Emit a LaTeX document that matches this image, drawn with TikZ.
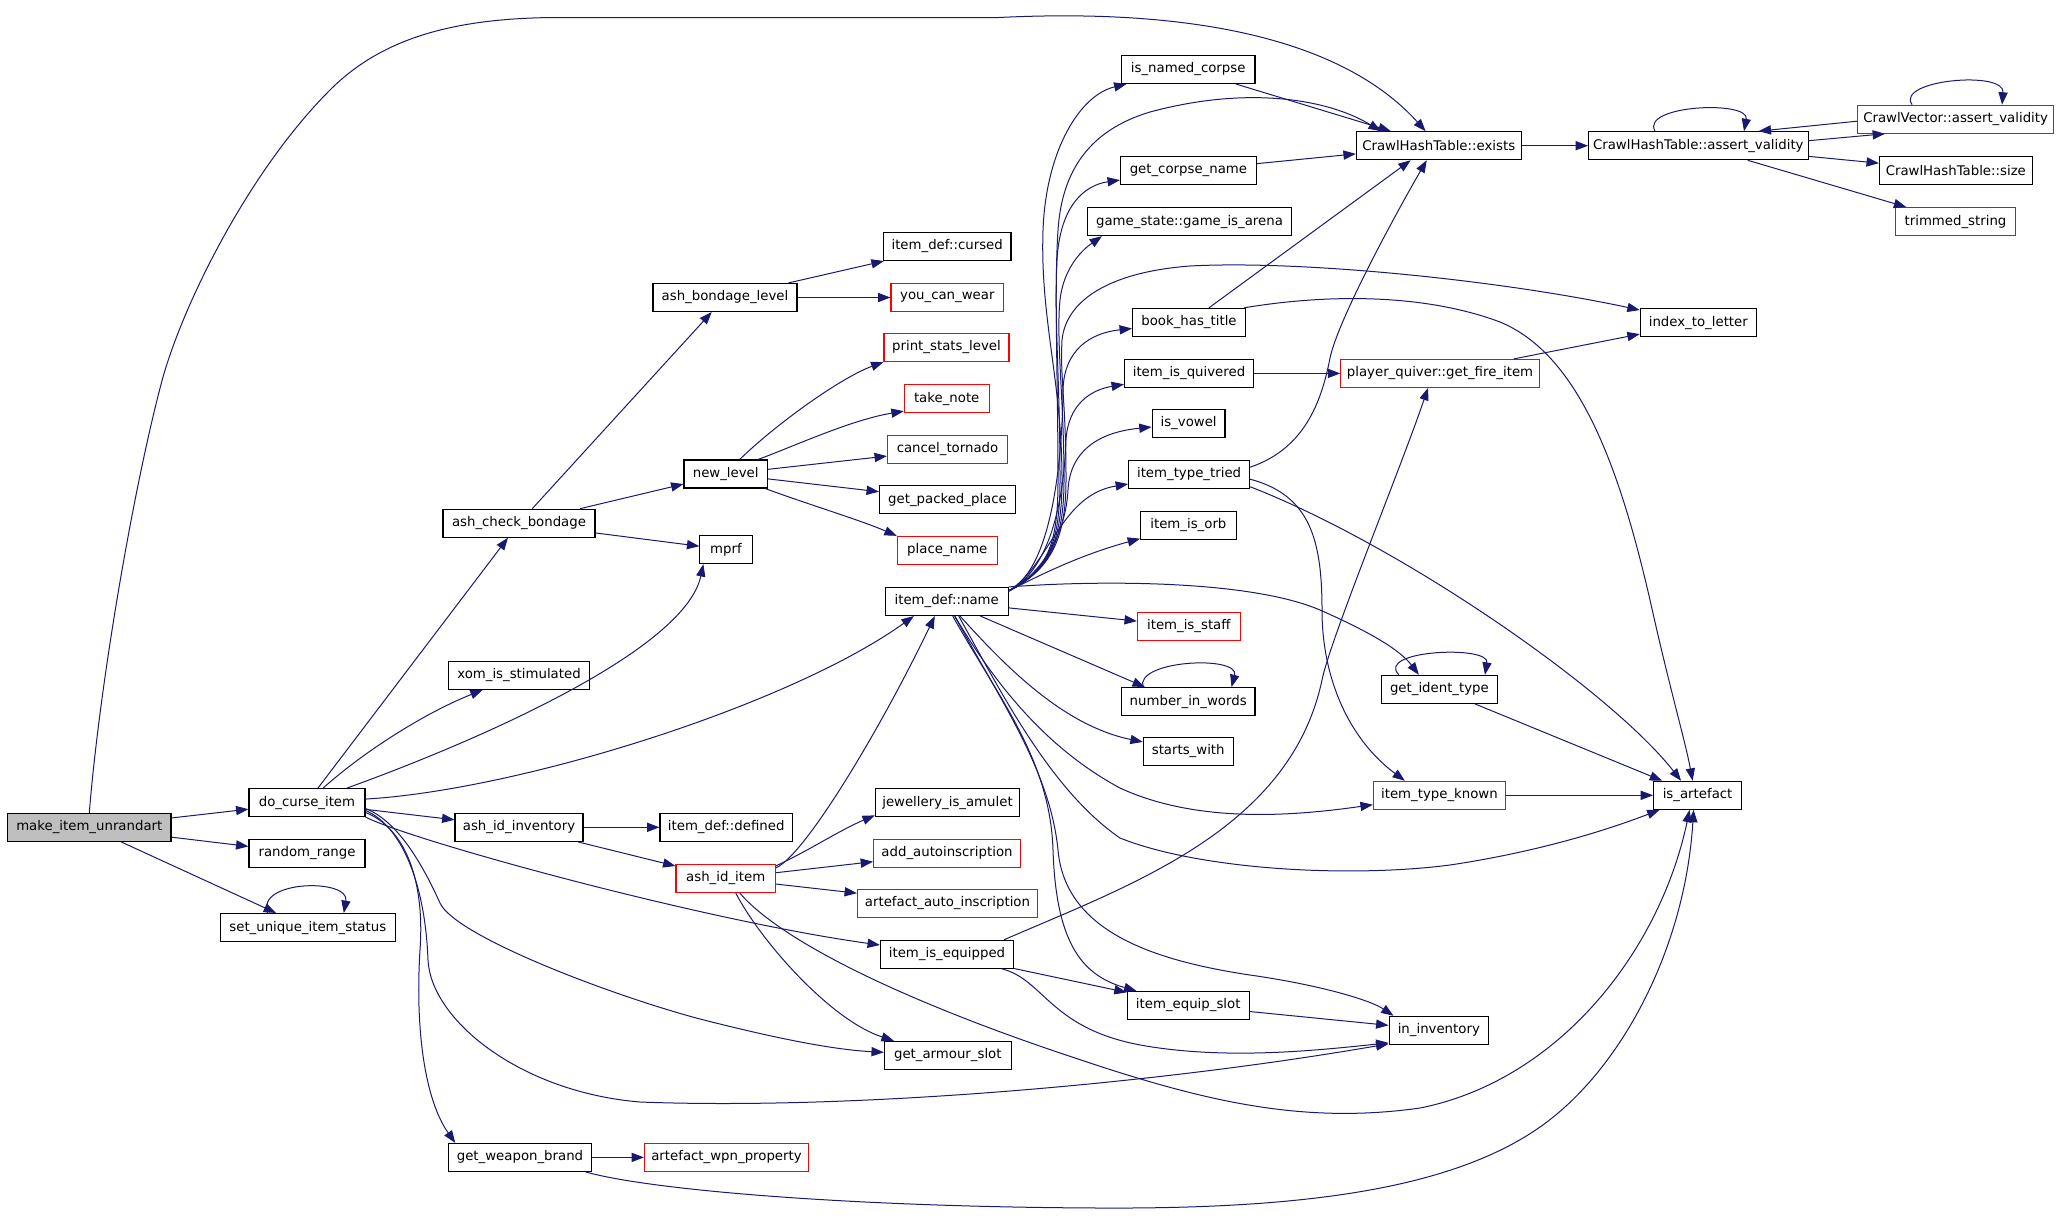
\documentclass[tikz,border=0pt]{standalone}
\usepackage{fontspec}
\setmainfont{DejaVu Sans}
\usetikzlibrary{arrows.meta,calc}
\definecolor{edgeblue}{HTML}{191970}
\definecolor{nodegray}{HTML}{BFBFBF}
\begin{document}
\begin{tikzpicture}[x=0.5pt,y=-0.5pt,
  fn/.style={draw=black, line width=0.55pt, fill=white, minimum height=14pt, inner xsep=1pt, inner ysep=0pt, font=\fontsize{6.65}{8}\selectfont},
  rfn/.style={fn, draw=red},
  e/.style={draw=edgeblue, line width=0.5pt, -{Triangle[length=6.2pt,width=4.6pt]}}]
\useasboundingbox (0,0) rectangle (2059,1221);
% nodes
\node[fn, fill=nodegray, minimum width=81.7pt] (mk) at (89.3,827.3) {make\_item\_unrandart};
\node[fn, minimum width=58pt] (dci) at (307,802.5) {do\_curse\_item};
\node[fn, minimum width=58pt] (rr) at (307,853.4) {random\_range};
\node[fn, minimum width=87.25pt] (sus) at (307.8,927.5) {set\_unique\_item\_status};
\node[fn, minimum width=76pt] (acb) at (519,523.2) {ash\_check\_bondage};
\node[fn, minimum width=70.3pt] (xom) at (519,675.3) {xom\_is\_stimulated};
\node[fn, minimum width=64pt] (aii) at (519,827.3) {ash\_id\_inventory};
\node[fn, minimum width=71.2pt] (gwb) at (520,1157.4) {get\_weapon\_brand};
\node[fn, minimum width=72pt] (abl) at (725,297.5) {ash\_bondage\_level};
\node[fn, minimum width=41.7pt] (nl) at (725.7,474) {new\_level};
\node[fn, minimum width=26.1pt] (mprf) at (726,549.6) {mprf};
\node[fn, minimum width=66.2pt] (idd) at (726.2,827.3) {item\_def::defined};
\node[rfn, minimum width=49.7pt] (aid) at (725.7,878.4) {ash\_id\_item};
\node[rfn, minimum width=82pt] (awp) at (726.5,1157.4) {artefact\_wpn\_property};
\node[fn, minimum width=63.75pt] (idc) at (947.2,246.5) {item\_def::cursed};
\node[rfn, minimum width=56.3pt] (ycw) at (947.3,297.5) {you\_can\_wear};
\node[rfn, minimum width=62.5pt] (psl) at (946.5,347.5) {print\_stats\_level};
\node[rfn, minimum width=42.4pt] (tn) at (946.7,398.6) {take\_note};
\node[rfn, minimum width=60pt] (ct) at (947.5,449.4) {cancel\_tornado};
\node[fn, minimum width=68pt] (gpp) at (947.5,499.6) {get\_packed\_place};
\node[rfn, minimum width=50pt] (pn) at (947.3,550.4) {place\_name};
\node[fn, minimum width=61.35pt] (idn) at (946.7,601.5) {item\_def::name};
\node[fn, minimum width=72.1pt] (jia) at (947.5,802.8) {jewellery\_is\_amulet};
\node[rfn, minimum width=73.4pt] (aai) at (947,853.3) {add\_autoinscription};
\node[rfn, minimum width=90pt] (aaui) at (947.5,903.3) {artefact\_auto\_inscription};
\node[fn, minimum width=66.5pt] (iie) at (947,954.3) {item\_is\_equipped};
\node[fn, minimum width=63.4pt] (gas) at (947.8,1055.3) {get\_armour\_slot};
\node[fn, minimum width=66.75pt] (inc) at (1188.2,69.5) {is\_named\_corpse};
\node[fn, minimum width=67.9pt] (gcn) at (1188.4,170.4) {get\_corpse\_name};
\node[fn, minimum width=102pt] (gia) at (1189.5,221.6) {game\_state::game\_is\_arena};
\node[fn, minimum width=56.5pt] (bht) at (1189,322.4) {book\_has\_title};
\node[fn, minimum width=64.5pt] (iiq) at (1189,373.4) {item\_is\_quivered};
\node[fn, minimum width=36.4pt] (iv) at (1188.6,423.5) {is\_vowel};
\node[fn, minimum width=60.5pt] (itt) at (1189.1,474.2) {item\_type\_tried};
\node[fn, minimum width=47.8pt] (iio) at (1188.4,525.5) {item\_is\_orb};
\node[rfn, minimum width=51.35pt] (iis) at (1188.8,626.4) {item\_is\_staff};
\node[fn, minimum width=66.75pt] (niw) at (1188.2,701.6) {number\_in\_words};
\node[fn, minimum width=44.85pt] (sw) at (1188.2,751.2) {starts\_with};
\node[fn, minimum width=61pt] (ies) at (1188.2,1005.4) {item\_equip\_slot};
\node[fn, minimum width=82.35pt] (che) at (1438.7,145.7) {CrawlHashTable::exists};
\node[rfn, minimum width=99.2pt] (pq) at (1440,373.4) {player\_quiver::get\_fire\_item};
\node[fn, minimum width=58pt] (git) at (1439.4,689.3) {get\_ident\_type};
\node[rfn, minimum width=66pt] (itk) at (1439.4,795.3) {item\_type\_known};
\node[fn, minimum width=49.75pt] (inv) at (1438.8,1030.3) {in\_inventory};
\node[fn, minimum width=109.75pt] (chav) at (1698.3,145.7) {CrawlHashTable::assert\_validity};
\node[fn, minimum width=58pt] (itl) at (1698.3,322.6) {index\_to\_letter};
\node[fn, minimum width=44pt] (isa) at (1697.6,795.3) {is\_artefact};
\node[rfn, minimum width=98pt] (cva) at (1955.6,119.2) {CrawlVector::assert\_validity};
\node[fn, minimum width=76.35pt] (chs) at (1955.8,170.6) {CrawlHashTable::size};
\node[rfn, minimum width=59.85pt] (ts) at (1955.5,221.6) {trimmed\_string};
\coordinate (idnS) at ($(idn.north east)+(0,4)$);
% make_item_unrandart
\draw[e] (mk.north) .. controls (100,680) and (135,480) .. (163,377) .. controls (185,300) and (250,170) .. (330,90) .. controls (380,40) and (450,17.5) .. (560,17.5) -- (999,17.5) .. controls (1150,10) and (1330,25) .. (che);
\draw[e] (mk) -- (dci);
\draw[e] (mk) -- (rr);
\draw[e] (mk) -- (sus);
\draw[e] ($(sus.north)+(-40,0)$) .. controls (255,880) and (350,878) .. ($(sus.north)+(36,0)$);
% do_curse_item
\draw[e] (dci) -- (acb);
\draw[e] (dci) .. controls (360,755) and (420,715) .. (xom);
\draw[e] (dci) .. controls (480,740) and (685,650) .. ($(mprf.south west)+(4,0)$);
\draw[e] (dci) .. controls (520,790) and (790,705) .. ($(idn.south west)+(29,0)$);
\draw[e] (dci) -- (aii);
\draw[e] (dci.south east) .. controls (410,840) and (700,920) .. (iie);
\draw[e] ($(dci.east)+(0,6)$) .. controls (400,822) and (425,870) .. (440,903) .. controls (455,936) and (610,995) .. (700,1019) .. controls (790,1042) and (840,1050) .. ($(gas.west)+(0,-3)$);
\draw[e] ($(dci.east)+(0,8)$) .. controls (400,825) and (425,880) .. (428,960) .. controls (431,1020) and (520,1092) .. (640,1102) .. controls (850,1110) and (1150,1085) .. ($(inv.south west)+(0,-1)$);
\draw[e] ($(dci.east)+(0,10)$) .. controls (405,828) and (425,880) .. (420,950) .. controls (415,1030) and (425,1100) .. ($(gwb.north west)+(7,0)$);
% ash_check_bondage and below
\draw[e] (acb) -- (abl);
\draw[e] (acb) -- (nl);
\draw[e] (acb) -- (mprf);
\draw[e] (abl) -- (idc);
\draw[e] (abl) -- (ycw);
\draw[e] ($(nl.north)+(14,0)$) .. controls (775,425) and (840,378) .. (psl.south west);
\draw[e] ($(nl.north east)+(-10,0)$) .. controls (790,448) and (850,420) .. ($(tn.south west)+(0,-2)$);
\draw[e] (nl) -- (ct);
\draw[e] (nl) -- (gpp);
\draw[e] (nl) .. controls (810,505) and (860,520) .. (pn.north west);
% ash_id_inventory, ash_id_item
\draw[e] (aii) -- (idd);
\draw[e] (aii) -- (aid);
\draw[e] ($(aid.north east)+(0,4)$) .. controls (805,855) and (880,730) .. ($(idn.south west)+(50,0)$);
\draw[e] ($(aid.north east)+(0,2)$) .. controls (810,850) and (840,830) .. ($(jia.south west)+(0,-2)$);
\draw[e] (aid) -- (aai);
\draw[e] (aid) -- (aaui);
\draw[e] ($(aid.south)+(10,0)$) .. controls (760,940) and (830,1020) .. ($(gas.north west)+(10,0)$);
\draw[e] ($(aid.south)+(14,0)$) .. controls (780,940) and (900,1000) .. (1075,1058) .. controls (1200,1100) and (1300,1125) .. (1420,1108) .. controls (1560,1080) and (1660,950) .. ($(isa.south)+(-8,0)$);
% get_weapon_brand
\draw[e] (gwb) -- (awp);
\draw[e] ($(gwb.south east)+(-6,0)$) .. controls (650,1190) and (850,1207) .. (1100,1208) .. controls (1300,1209) and (1450,1190) .. (1540,1127) .. controls (1620,1071) and (1685,950) .. ($(isa.south)+(-4,0)$);
% item_is_equipped
\draw[e] ($(iie.north east)+(-10,0)$) .. controls (1130,885) and (1290,830) .. (1322,680) .. controls (1330,640) and (1400,470) .. ($(pq.south)+(-12,0)$);
\draw[e] (iie) -- (ies);
\draw[e] ($(iie.south east)+(-12,0)$) .. controls (1045,980) and (1050,1030) .. (1146,1046) .. controls (1230,1060) and (1320,1050) .. ($(inv.south west)+(0,-2)$);
\draw[e] (ies) -- (inv);
% item_def::name upward bundle
\draw[e] (idnS) .. controls (1050,570) and (1062,540) .. (1062,480) .. controls (1062,380) and (1040,320) .. (1043,230) .. controls (1046,150) and (1080,95) .. (inc);
\draw[e] (idnS) .. controls (1050,570) and (1058,540) .. (1058,480) .. controls (1058,380) and (1054,290) .. (1058,230) .. controls (1062,170) and (1090,130) .. (1150,112) .. controls (1250,85) and (1330,100) .. ($(che.north west)+(25,0)$);
\draw[e] (idnS) .. controls (1050,570) and (1060,540) .. (1060,480) .. controls (1060,380) and (1054,320) .. (1057,260) .. controls (1060,205) and (1085,185) .. (gcn);
\draw[e] (idnS) .. controls (1050,570) and (1064,540) .. (1064,480) .. controls (1064,400) and (1056,340) .. (1060,300) .. controls (1064,265) and (1085,248) .. ($(gia.south west)+(15,0)$);
\draw[e] (idnS) .. controls (1050,570) and (1066,540) .. (1066,480) .. controls (1066,400) and (1060,380) .. (1062,340) .. controls (1066,300) and (1110,272) .. (1190,266) .. controls (1300,260) and (1500,280) .. (itl);
\draw[e] (idnS) .. controls (1050,570) and (1062,470) .. (1063,390) .. controls (1064,350) and (1090,333) .. (bht);
\draw[e] (idnS) .. controls (1050,570) and (1064,500) .. (1066,440) .. controls (1068,405) and (1090,390) .. (iiq);
\draw[e] (idnS) .. controls (1045,572) and (1066,530) .. (1068,490) .. controls (1070,450) and (1100,432) .. (iv);
\draw[e] (idnS) .. controls (1050,565) and (1060,495) .. (itt);
\draw[e] (idnS) .. controls (1040,575) and (1080,555) .. (iio);
\draw[e] (idn.north east) .. controls (1100,580) and (1250,580) .. (1320,610) .. controls (1370,632) and (1400,650) .. ($(git.north west)+(38,0)$);
% item_def::name right and downward
\draw[e] (idn) -- (iis);
\draw[e] (idn) -- ($(niw.north west)+(24,0)$);
\draw[e] (idn) .. controls (1000,660) and (1060,725) .. (sw);
\draw[e] ($(idn.south)+(8,0)$) .. controls (990,675) and (1040,745) .. (1120,788) .. controls (1200,825) and (1300,815) .. (itk);
\draw[e] ($(idn.south)+(12,0)$) .. controls (1000,690) and (1050,790) .. (1120,838) .. controls (1200,870) and (1350,878) .. (1450,865) .. controls (1550,850) and (1620,825) .. (isa);
\draw[e] ($(idn.south)+(8,0)$) .. controls (1000,700) and (1050,770) .. (1058,850) .. controls (1065,930) and (1150,960) .. (1250,975) .. controls (1320,985) and (1370,1000) .. ($(inv.north west)+(5,0)$);
\draw[e] ($(idn.south)+(6,0)$) .. controls (1000,700) and (1050,760) .. (1053,850) .. controls (1056,940) and (1080,975) .. (ies);
% column 3 nodes
\draw[e] (inc) -- (che);
\draw[e] (gcn) -- (che);
\draw[e] (bht) -- ($(che.south)+(-28,0)$);
\draw[e] ($(bht.north east)+(-2,0)$) .. controls (1320,295) and (1420,292) .. (1500,322) .. controls (1580,355) and (1620,470) .. (1650,600) .. controls (1670,690) and (1685,740) .. ($(isa.north)+(-5,0)$);
\draw[e] (iiq) -- (pq);
\draw[e] (pq) -- (itl);
\draw[e] ($(itt.east)+(0,-7)$) .. controls (1300,450) and (1320,410) .. (1330,358) .. controls (1338,320) and (1395,215) .. ($(che.south)+(-12,0)$);
\draw[e] ($(itt.east)+(0,5)$) .. controls (1310,495) and (1322,540) .. (1322,610) .. controls (1322,680) and (1350,740) .. ($(itk.north west)+(32,0)$);
\draw[e] ($(itt.south east)+(0,-2)$) .. controls (1400,545) and (1610,690) .. ($(isa.north west)+(28,0)$);
\draw[e] ($(niw.north west)+(22,0)$) .. controls (1135,660) and (1240,655) .. ($(niw.north east)+(-24,0)$);
\draw[e] ($(git.north west)+(18,0)$) .. controls (1375,650) and (1490,645) .. ($(git.north east)+(-13,0)$);
\draw[e] (git) -- (isa);
\draw[e] (itk) -- (isa);
% CrawlHashTable
\draw[e] (che) -- (chav);
\draw[e] ($(chav.north west)+(67,0)$) .. controls (1640,105) and (1750,100) .. ($(chav.north west)+(156,0)$);
\draw[e] ($(chav.east)+(0,-5)$) -- ($(cva.south west)+(28,0)$);
\draw[e] ($(cva.west)+(0,2)$) -- ($(chav.north east)+(-50,0)$);
\draw[e] ($(cva.north west)+(55,0)$) .. controls (1895,80) and (2005,70) .. ($(cva.north west)+(145,0)$);
\draw[e] (chav) -- (chs);
\draw[e] (chav) -- (ts);
\end{tikzpicture}
\end{document}
